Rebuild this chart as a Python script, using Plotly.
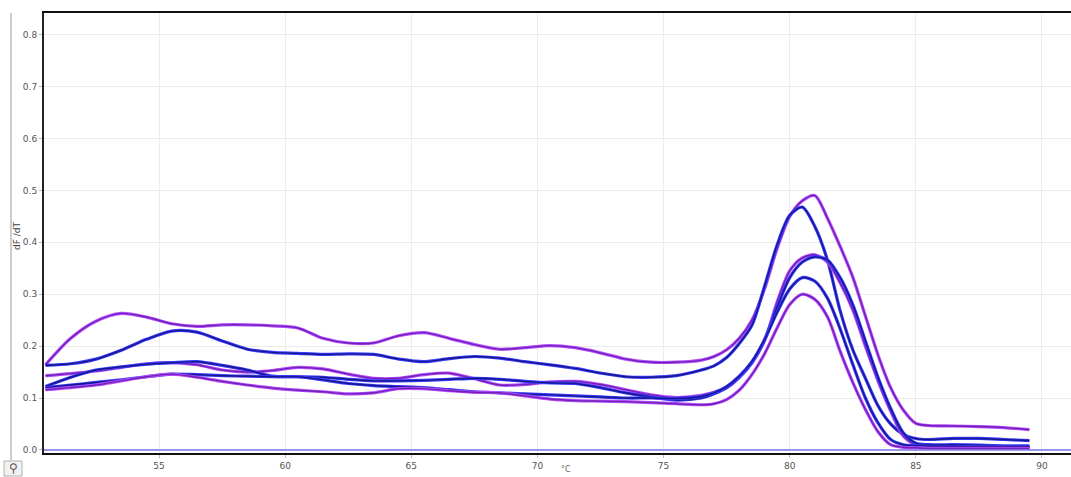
import plotly.graph_objects as go

# Temperature grid (°C)
temps = [50.5, 51.5, 52.5, 53.5, 54.5, 55.5, 56.5, 57.5, 58.5, 59.5, 60.5, 61.5, 62.5,
         63.5, 64.5, 65.5, 66.5, 67.5, 68.5, 69.5, 70.5, 71.5, 72.5, 73.5, 74.5, 75.5,
         76.5, 77.0, 77.5, 78.0, 78.5, 79.0, 79.5, 80.0, 80.5, 81.0, 81.5, 82.0, 82.5,
         83.0, 83.5, 84.0, 84.5, 85.0, 85.5, 86.5, 87.5, 88.5, 89.5]

# dF/dT melt curves
curve_a = [0.164, 0.215, 0.248, 0.263, 0.256, 0.243, 0.238, 0.241, 0.241, 0.239, 0.235, 0.215, 0.206,
           0.206, 0.220, 0.226, 0.215, 0.203, 0.194, 0.197, 0.201, 0.197, 0.187, 0.175, 0.169, 0.169,
           0.173, 0.180, 0.193, 0.215, 0.250, 0.310, 0.388, 0.450, 0.480, 0.490, 0.446, 0.392, 0.333,
           0.258, 0.183, 0.120, 0.077, 0.051, 0.047, 0.046, 0.045, 0.043, 0.039]
curve_b = [0.163, 0.166, 0.175, 0.192, 0.213, 0.229, 0.227, 0.210, 0.194, 0.188, 0.186, 0.184, 0.185,
           0.184, 0.175, 0.170, 0.176, 0.180, 0.177, 0.170, 0.164, 0.157, 0.148, 0.141, 0.140, 0.143,
           0.154, 0.162, 0.178, 0.205, 0.240, 0.315, 0.395, 0.452, 0.468, 0.430, 0.365, 0.268, 0.193,
           0.138, 0.085, 0.050, 0.030, 0.022, 0.020, 0.022, 0.022, 0.020, 0.018]
curve_c = [0.143, 0.147, 0.152, 0.159, 0.166, 0.168, 0.164, 0.154, 0.150, 0.153, 0.159, 0.156, 0.146,
           0.138, 0.138, 0.145, 0.148, 0.137, 0.125, 0.126, 0.131, 0.132, 0.126, 0.116, 0.106, 0.101,
           0.105, 0.111, 0.120, 0.140, 0.168, 0.210, 0.285, 0.345, 0.370, 0.376, 0.362, 0.322, 0.270,
           0.200, 0.133, 0.075, 0.027, 0.010, 0.008, 0.006, 0.006, 0.005, 0.005]
curve_d = [0.122, 0.140, 0.154, 0.160, 0.165, 0.168, 0.170, 0.163, 0.154, 0.142, 0.141, 0.140, 0.136,
           0.133, 0.133, 0.134, 0.136, 0.138, 0.136, 0.132, 0.129, 0.128, 0.120, 0.110, 0.102, 0.096,
           0.100, 0.108, 0.120, 0.140, 0.168, 0.212, 0.275, 0.332, 0.362, 0.372, 0.366, 0.332, 0.280,
           0.210, 0.140, 0.080, 0.033, 0.013, 0.010, 0.010, 0.009, 0.008, 0.008]
curve_e = [0.120, 0.125, 0.130, 0.135, 0.141, 0.146, 0.145, 0.143, 0.142, 0.141, 0.141, 0.135, 0.128,
           0.124, 0.122, 0.120, 0.116, 0.112, 0.110, 0.108, 0.106, 0.104, 0.102, 0.100, 0.100, 0.099,
           0.103, 0.110, 0.122, 0.142, 0.170, 0.212, 0.265, 0.310, 0.332, 0.325, 0.292, 0.233, 0.165,
           0.100, 0.052, 0.020, 0.010, 0.008, 0.007, 0.007, 0.006, 0.006, 0.006]
curve_f = [0.116, 0.120, 0.125, 0.133, 0.141, 0.146, 0.140, 0.132, 0.125, 0.119, 0.115, 0.112, 0.108,
           0.110, 0.118, 0.118, 0.114, 0.111, 0.110, 0.104, 0.098, 0.095, 0.094, 0.093, 0.091, 0.089,
           0.087, 0.089, 0.097, 0.115, 0.145, 0.185, 0.235, 0.280, 0.300, 0.290, 0.256, 0.190, 0.130,
           0.078, 0.035, 0.010, 0.005, 0.004, 0.003, 0.003, 0.003, 0.003, 0.003]

curves = [curve_a, curve_b, curve_c, curve_d, curve_e, curve_f]
kinds = ["purple", "blue", "purple", "blue", "blue", "purple"]

x_ticks = [55, 60, 65, 70, 75, 80, 85, 90]
y_ticks = [0.0, 0.1, 0.2, 0.3, 0.4, 0.5, 0.6, 0.7, 0.8]

halo = {"purple": "#b64cff", "blue": "#3c3cff"}
core = {"purple": "#7020b8", "blue": "#16168e"}

fig = go.Figure()
for vals, k in zip(curves, kinds):
    fig.add_trace(go.Scatter(x=temps, y=vals, mode="lines", line=dict(color=halo[k], width=3.2, shape="spline", smoothing=0.8),
                             hoverinfo="skip", showlegend=False))
    fig.add_trace(go.Scatter(x=temps, y=vals, mode="lines", line=dict(color=core[k], width=1.4, shape="spline", smoothing=0.8),
                             showlegend=False))

W, H = 1071, 477
L, R, T, B = 44, 0, 13, 24
PW, PH = W - L - R, H - T - B


def px(x):
    return (x - L) / PW


def py(y):
    return (H - B - y) / PH


# zero baseline
fig.add_shape(type="line", xref="paper", x0=0, x1=1, yref="y", y0=0, y1=0,
              line=dict(color="#7878e8", width=1.5))
# window frame line at far left
fig.add_shape(type="line", xref="paper", yref="paper",
              x0=px(11), x1=px(11), y0=py(460), y1=1,
              line=dict(color="#9a9a9a", width=1))
# small tool icon box at bottom-left
fig.add_shape(type="rect", xref="paper", yref="paper",
              x0=px(4), x1=px(22), y0=py(476), y1=py(461),
              line=dict(color="#b0b0b0", width=1), fillcolor="#f2f2f2")
fig.add_annotation(text="⚲", xref="paper", yref="paper", x=px(13), y=py(468),
                   xanchor="center", yanchor="middle", showarrow=False,
                   font=dict(size=12, color="#555", family="DejaVu Sans"))

fig.add_annotation(text="dF /dT", textangle=-90, xref="paper", yref="paper",
                   x=px(17), y=py(236), xanchor="center", yanchor="middle",
                   showarrow=False, font=dict(size=9, color="#444", family="DejaVu Sans"))
fig.add_annotation(text="°C", xref="paper", yref="paper",
                   x=px(566), y=py(476), xanchor="center", yanchor="bottom",
                   showarrow=False, font=dict(size=8, color="#666", family="DejaVu Sans"))

fig.update_layout(
    width=W, height=H,
    margin=dict(l=L, r=R, t=T, b=B, autoexpand=False),
    paper_bgcolor="white", plot_bgcolor="white",
    font=dict(family="DejaVu Sans", size=9, color="#555"),
    xaxis=dict(range=[50.44, 91.15], tickvals=x_ticks, ticktext=[str(v) for v in x_ticks],
               showgrid=True, gridcolor="#ececec", gridwidth=1, zeroline=False,
               showline=True, linecolor="#111", linewidth=2, mirror=True, automargin=False,
               ticks="outside", ticklen=3, tickcolor="#bbb", tickfont=dict(size=9, color="#555")),
    yaxis=dict(range=[-0.006, 0.842], tickvals=y_ticks, ticktext=[f"{v:.1f}" for v in y_ticks],
               showgrid=True, gridcolor="#ececec", gridwidth=1, zeroline=False,
               showline=True, linecolor="#222", linewidth=2, automargin=False,
               ticks="outside", ticklen=3, tickcolor="#bbb", tickfont=dict(size=9, color="#555")),
)

fig.write_html("out.html", config={"displayModeBar": False},
               post_script="document.body.style.margin='0px';document.body.style.overflow='hidden';")
